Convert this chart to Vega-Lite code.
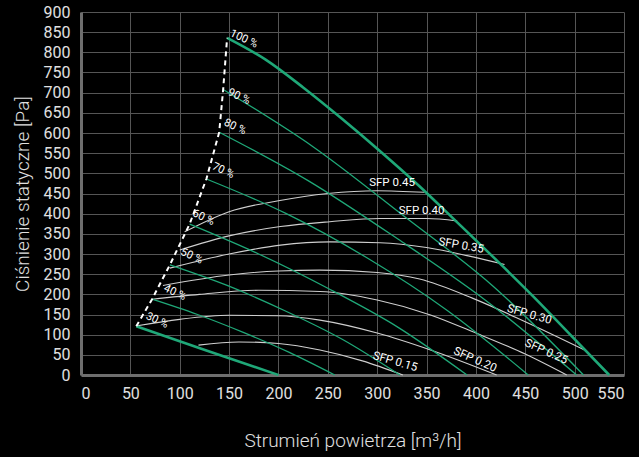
{
  "$schema": "https://vega.github.io/schema/vega-lite/v6.json",
  "width": 543,
  "height": 363,
  "autosize": {"type": "none"},
  "padding": {"left": 81, "top": 12, "right": 15, "bottom": 82},
  "background": "#000000",
  "config": {
    "view": {"stroke": null},
    "font": "Roboto",
    "axis": {
      "domainColor": "#6e6e6e",
      "domainWidth": 3,
      "gridColor": "#555555",
      "gridWidth": 1,
      "ticks": false,
      "labelOverlap": false,
      "labelColor": "#e0e0e0",
      "labelFont": "Roboto",
      "labelFontSize": 16,
      "titleColor": "#e0e0e0",
      "titleFont": "Roboto",
      "titleFontSize": 19,
      "titleFontWeight": 300
    }
  },
  "datasets": {
    "curves": [
      {"series": "30 %", "kind": "fan", "ord": 0, "q": 56, "p": 121},
      {"series": "30 %", "kind": "fan", "ord": 1, "q": 127, "p": 61},
      {"series": "30 %", "kind": "fan", "ord": 2, "q": 200, "p": 0},
      {"series": "40 %", "kind": "fan", "ord": 0, "q": 72, "p": 188},
      {"series": "40 %", "kind": "fan", "ord": 1, "q": 118, "p": 150},
      {"series": "40 %", "kind": "fan", "ord": 2, "q": 165, "p": 105},
      {"series": "40 %", "kind": "fan", "ord": 3, "q": 211, "p": 56},
      {"series": "40 %", "kind": "fan", "ord": 4, "q": 257, "p": 0},
      {"series": "50 %", "kind": "fan", "ord": 0, "q": 90, "p": 273},
      {"series": "50 %", "kind": "fan", "ord": 1, "q": 148, "p": 222},
      {"series": "50 %", "kind": "fan", "ord": 2, "q": 206, "p": 160},
      {"series": "50 %", "kind": "fan", "ord": 3, "q": 265, "p": 88},
      {"series": "50 %", "kind": "fan", "ord": 4, "q": 323, "p": 0},
      {"series": "60 %", "kind": "fan", "ord": 0, "q": 110, "p": 374},
      {"series": "60 %", "kind": "fan", "ord": 1, "q": 180, "p": 300},
      {"series": "60 %", "kind": "fan", "ord": 2, "q": 250, "p": 215},
      {"series": "60 %", "kind": "fan", "ord": 3, "q": 320, "p": 120},
      {"series": "60 %", "kind": "fan", "ord": 4, "q": 391, "p": 0},
      {"series": "70 %", "kind": "fan", "ord": 0, "q": 127, "p": 486},
      {"series": "70 %", "kind": "fan", "ord": 1, "q": 208, "p": 400},
      {"series": "70 %", "kind": "fan", "ord": 2, "q": 290, "p": 290},
      {"series": "70 %", "kind": "fan", "ord": 3, "q": 371, "p": 160},
      {"series": "70 %", "kind": "fan", "ord": 4, "q": 453, "p": 0},
      {"series": "80 %", "kind": "fan", "ord": 0, "q": 140, "p": 602},
      {"series": "80 %", "kind": "fan", "ord": 1, "q": 230, "p": 482},
      {"series": "80 %", "kind": "fan", "ord": 2, "q": 321, "p": 337},
      {"series": "80 %", "kind": "fan", "ord": 3, "q": 411, "p": 183},
      {"series": "80 %", "kind": "fan", "ord": 4, "q": 502, "p": 0},
      {"series": "90 %", "kind": "fan", "ord": 0, "q": 144, "p": 708},
      {"series": "90 %", "kind": "fan", "ord": 1, "q": 235, "p": 566},
      {"series": "90 %", "kind": "fan", "ord": 2, "q": 326, "p": 396},
      {"series": "90 %", "kind": "fan", "ord": 3, "q": 418, "p": 219},
      {"series": "90 %", "kind": "fan", "ord": 4, "q": 509, "p": 0},
      {"series": "100 %", "kind": "fan", "ord": 0, "q": 148, "p": 836},
      {"series": "100 %", "kind": "fan", "ord": 1, "q": 187, "p": 782},
      {"series": "100 %", "kind": "fan", "ord": 2, "q": 225, "p": 713},
      {"series": "100 %", "kind": "fan", "ord": 3, "q": 264, "p": 636},
      {"series": "100 %", "kind": "fan", "ord": 4, "q": 303, "p": 555},
      {"series": "100 %", "kind": "fan", "ord": 5, "q": 342, "p": 470},
      {"series": "100 %", "kind": "fan", "ord": 6, "q": 380, "p": 381},
      {"series": "100 %", "kind": "fan", "ord": 7, "q": 419, "p": 289},
      {"series": "100 %", "kind": "fan", "ord": 8, "q": 458, "p": 195},
      {"series": "100 %", "kind": "fan", "ord": 9, "q": 496, "p": 99},
      {"series": "100 %", "kind": "fan", "ord": 10, "q": 535, "p": 0},
      {"series": "SFP 0.45", "kind": "sfp", "ord": 0, "q": 105, "p": 355},
      {"series": "SFP 0.45", "kind": "sfp", "ord": 1, "q": 150, "p": 405},
      {"series": "SFP 0.45", "kind": "sfp", "ord": 2, "q": 200, "p": 432},
      {"series": "SFP 0.45", "kind": "sfp", "ord": 3, "q": 250, "p": 450},
      {"series": "SFP 0.45", "kind": "sfp", "ord": 4, "q": 300, "p": 457},
      {"series": "SFP 0.45", "kind": "sfp", "ord": 5, "q": 348, "p": 453},
      {"series": "SFP 0.40", "kind": "sfp", "ord": 0, "q": 100, "p": 310},
      {"series": "SFP 0.40", "kind": "sfp", "ord": 1, "q": 150, "p": 345},
      {"series": "SFP 0.40", "kind": "sfp", "ord": 2, "q": 202, "p": 368},
      {"series": "SFP 0.40", "kind": "sfp", "ord": 3, "q": 252, "p": 380},
      {"series": "SFP 0.40", "kind": "sfp", "ord": 4, "q": 303, "p": 388},
      {"series": "SFP 0.40", "kind": "sfp", "ord": 5, "q": 350, "p": 388},
      {"series": "SFP 0.40", "kind": "sfp", "ord": 6, "q": 381, "p": 382},
      {"series": "SFP 0.35", "kind": "sfp", "ord": 0, "q": 90, "p": 265},
      {"series": "SFP 0.35", "kind": "sfp", "ord": 1, "q": 150, "p": 300},
      {"series": "SFP 0.35", "kind": "sfp", "ord": 2, "q": 202, "p": 322},
      {"series": "SFP 0.35", "kind": "sfp", "ord": 3, "q": 252, "p": 330},
      {"series": "SFP 0.35", "kind": "sfp", "ord": 4, "q": 303, "p": 328},
      {"series": "SFP 0.35", "kind": "sfp", "ord": 5, "q": 350, "p": 316},
      {"series": "SFP 0.35", "kind": "sfp", "ord": 6, "q": 391, "p": 296},
      {"series": "SFP 0.35", "kind": "sfp", "ord": 7, "q": 429, "p": 274},
      {"series": "SFP 0.30", "kind": "sfp", "ord": 0, "q": 83, "p": 222},
      {"series": "SFP 0.30", "kind": "sfp", "ord": 1, "q": 150, "p": 248},
      {"series": "SFP 0.30", "kind": "sfp", "ord": 2, "q": 200, "p": 258},
      {"series": "SFP 0.30", "kind": "sfp", "ord": 3, "q": 242, "p": 260},
      {"series": "SFP 0.30", "kind": "sfp", "ord": 4, "q": 300, "p": 254},
      {"series": "SFP 0.30", "kind": "sfp", "ord": 5, "q": 343, "p": 238},
      {"series": "SFP 0.30", "kind": "sfp", "ord": 6, "q": 397, "p": 190},
      {"series": "SFP 0.30", "kind": "sfp", "ord": 7, "q": 450, "p": 132},
      {"series": "SFP 0.30", "kind": "sfp", "ord": 8, "q": 510, "p": 62},
      {"series": "SFP 0.25", "kind": "sfp", "ord": 0, "q": 72, "p": 188},
      {"series": "SFP 0.25", "kind": "sfp", "ord": 1, "q": 120, "p": 200},
      {"series": "SFP 0.25", "kind": "sfp", "ord": 2, "q": 180, "p": 210},
      {"series": "SFP 0.25", "kind": "sfp", "ord": 3, "q": 242, "p": 207},
      {"series": "SFP 0.25", "kind": "sfp", "ord": 4, "q": 300, "p": 186},
      {"series": "SFP 0.25", "kind": "sfp", "ord": 5, "q": 354, "p": 149},
      {"series": "SFP 0.25", "kind": "sfp", "ord": 6, "q": 397, "p": 107},
      {"series": "SFP 0.25", "kind": "sfp", "ord": 7, "q": 450, "p": 52},
      {"series": "SFP 0.25", "kind": "sfp", "ord": 8, "q": 492, "p": 0},
      {"series": "SFP 0.20", "kind": "sfp", "ord": 0, "q": 57, "p": 122},
      {"series": "SFP 0.20", "kind": "sfp", "ord": 1, "q": 100, "p": 138},
      {"series": "SFP 0.20", "kind": "sfp", "ord": 2, "q": 150, "p": 148},
      {"series": "SFP 0.20", "kind": "sfp", "ord": 3, "q": 200, "p": 147},
      {"series": "SFP 0.20", "kind": "sfp", "ord": 4, "q": 242, "p": 136},
      {"series": "SFP 0.20", "kind": "sfp", "ord": 5, "q": 300, "p": 104},
      {"series": "SFP 0.20", "kind": "sfp", "ord": 6, "q": 354, "p": 62},
      {"series": "SFP 0.20", "kind": "sfp", "ord": 7, "q": 421, "p": 0},
      {"series": "SFP 0.15", "kind": "sfp", "ord": 0, "q": 119, "p": 74},
      {"series": "SFP 0.15", "kind": "sfp", "ord": 1, "q": 160, "p": 82},
      {"series": "SFP 0.15", "kind": "sfp", "ord": 2, "q": 200, "p": 78},
      {"series": "SFP 0.15", "kind": "sfp", "ord": 3, "q": 242, "p": 62},
      {"series": "SFP 0.15", "kind": "sfp", "ord": 4, "q": 285, "p": 35},
      {"series": "SFP 0.15", "kind": "sfp", "ord": 5, "q": 326, "p": 0},
      {"series": "envelope", "kind": "env", "ord": 0, "q": 56, "p": 121},
      {"series": "envelope", "kind": "env", "ord": 1, "q": 72, "p": 188},
      {"series": "envelope", "kind": "env", "ord": 2, "q": 90, "p": 273},
      {"series": "envelope", "kind": "env", "ord": 3, "q": 110, "p": 374},
      {"series": "envelope", "kind": "env", "ord": 4, "q": 127, "p": 486},
      {"series": "envelope", "kind": "env", "ord": 5, "q": 140, "p": 602},
      {"series": "envelope", "kind": "env", "ord": 6, "q": 144, "p": 708},
      {"series": "envelope", "kind": "env", "ord": 7, "q": 148, "p": 836}
    ],
    "labels": [
      {"text": "100 %", "group": "pct", "q": 165, "p": 833},
      {"text": "90 %", "group": "pct", "q": 160, "p": 690},
      {"text": "80 %", "group": "pct", "q": 156, "p": 615},
      {"text": "70 %", "group": "pct", "q": 144, "p": 506},
      {"text": "60 %", "group": "pct", "q": 124, "p": 390},
      {"text": "50 %", "group": "pct", "q": 112, "p": 294},
      {"text": "40 %", "group": "pct", "q": 95, "p": 204},
      {"text": "30 %", "group": "pct", "q": 77, "p": 135},
      {"text": "SFP 0.45", "group": "flat", "q": 315, "p": 476},
      {"text": "SFP 0.40", "group": "flat", "q": 345, "p": 406},
      {"text": "SFP 0.35", "group": "s10", "q": 385, "p": 320},
      {"text": "SFP 0.30", "group": "s16", "q": 454, "p": 149},
      {"text": "SFP 0.15", "group": "s16", "q": 318, "p": 32},
      {"text": "SFP 0.25", "group": "s24", "q": 471, "p": 57},
      {"text": "SFP 0.20", "group": "s24", "q": 399, "p": 37}
    ]
  },
  "encoding": {
    "x": {"field": "q", "type": "quantitative", "scale": {"domain": [0, 550], "nice": false},
      "axis": {"title": "Strumień powietrza [m³/h]", "values": [0,50,100,150,200,250,300,350,400,450,500,550], "labelPadding": 10, "titlePadding": 30}},
    "y": {"field": "p", "type": "quantitative", "scale": {"domain": [0, 900], "nice": false},
      "axis": {"title": "Ciśnienie statyczne [Pa]", "values": [0,50,100,150,200,250,300,350,400,450,500,550,600,650,700,750,800,850,900], "labelPadding": 11, "titlePadding": 11}}
  },
  "layer": [
    {
      "data": {"name": "curves"},
      "transform": [{"filter": "datum.kind == 'sfp'"}],
      "mark": {"type": "line", "color": "#cfcfcf", "strokeWidth": 1.1, "interpolate": "monotone"},
      "encoding": {"detail": {"field": "series"}, "order": {"field": "ord"}}
    },
    {
      "data": {"name": "curves"},
      "transform": [{"filter": "datum.kind == 'fan' && datum.series != '30 %' && datum.series != '100 %'"}],
      "mark": {"type": "line", "color": "#1fa878", "strokeWidth": 1.3, "interpolate": "monotone"},
      "encoding": {"detail": {"field": "series"}, "order": {"field": "ord"}}
    },
    {
      "data": {"name": "curves"},
      "transform": [{"filter": "datum.series == '30 %' || datum.series == '100 %'"}],
      "mark": {"type": "line", "color": "#1fa878", "strokeWidth": 2.6, "interpolate": "monotone"},
      "encoding": {"detail": {"field": "series"}, "order": {"field": "ord"}}
    },
    {
      "data": {"name": "curves"},
      "transform": [{"filter": "datum.kind == 'env'"}],
      "mark": {"type": "line", "color": "#ffffff", "strokeWidth": 2, "strokeDash": [5, 4]},
      "encoding": {"order": {"field": "ord"}}
    },
    {
      "data": {"name": "labels"},
      "transform": [{"filter": "datum.group == 'pct'"}],
      "mark": {"type": "text", "color": "#ffffff", "fontSize": 11, "angle": 25, "font": "Roboto"},
      "encoding": {"text": {"field": "text"}}
    },
    {
      "data": {"name": "labels"},
      "transform": [{"filter": "datum.group == 'flat'"}],
      "mark": {"type": "text", "color": "#ffffff", "fontSize": 11.5, "angle": 0, "font": "Roboto"},
      "encoding": {"text": {"field": "text"}}
    },
    {
      "data": {"name": "labels"},
      "transform": [{"filter": "datum.group == 's10'"}],
      "mark": {"type": "text", "color": "#ffffff", "fontSize": 11.5, "angle": 10, "font": "Roboto"},
      "encoding": {"text": {"field": "text"}}
    },
    {
      "data": {"name": "labels"},
      "transform": [{"filter": "datum.group == 's16'"}],
      "mark": {"type": "text", "color": "#ffffff", "fontSize": 11.5, "angle": 16, "font": "Roboto"},
      "encoding": {"text": {"field": "text"}}
    },
    {
      "data": {"name": "labels"},
      "transform": [{"filter": "datum.group == 's24'"}],
      "mark": {"type": "text", "color": "#ffffff", "fontSize": 11.5, "angle": 24, "font": "Roboto"},
      "encoding": {"text": {"field": "text"}}
    }
  ]
}
